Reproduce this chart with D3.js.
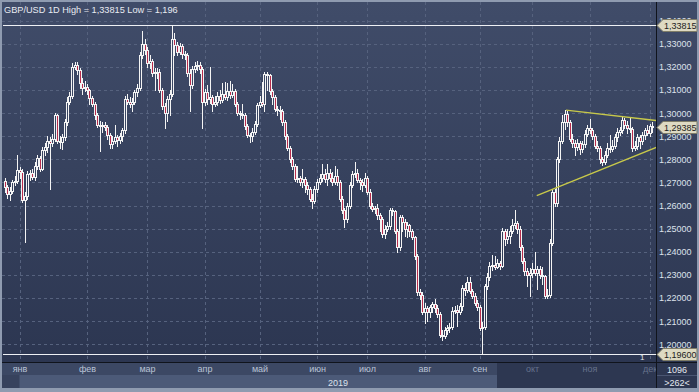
<!DOCTYPE html>
<html>
<head>
<meta charset="utf-8">
<script src="https://cdn.jsdelivr.net/npm/d3@7"></script>
<style>
    body { margin: 0; background: #8f9bb0; }
    svg { display: block; font-family: 'Liberation Sans', Arial, sans-serif; }
</style>
</head>
<body>
<div id="chart"></div>
<script>
// GBP/USD daily candles, late Dec 2018 .. early Dec 2019
const opens = [
    1.2705,1.2680,1.2650,1.2665,1.2700,1.2705,1.2752,1.2745,1.2625,1.2640,
    1.2735,1.2740,1.2725,1.2770,1.2805,1.2760,1.2840,1.2855,1.2880,1.2870,
    1.2890,1.2990,1.2880,1.2875,1.2895,1.2960,1.3050,1.3075,1.3200,1.3210,
    1.3185,1.3130,1.3110,1.3115,1.3100,1.3065,1.3040,1.2990,1.2950,1.2945,
    1.2950,1.2940,1.2905,1.2865,1.2880,1.2895,1.2885,1.2900,1.2925,1.3060,
    1.3050,1.3040,1.3050,1.3090,1.3110,1.3250,1.3300,1.3275,1.3215,1.3225,
    1.3175,1.3180,1.3178,1.3100,1.3030,1.3000,1.3060,1.3085,1.3320,1.3295,
    1.3265,1.3290,1.3255,1.3250,1.3175,1.3120,1.3190,1.3205,1.3210,1.3190,
    1.3050,1.3090,1.3060,1.3070,1.3040,1.3050,1.3075,1.3055,1.3085,1.3070,
    1.3095,1.3080,1.3095,1.3040,1.3000,1.2995,1.2990,1.2945,1.2905,1.2900,
    1.2920,1.2955,1.3035,1.3050,1.3040,1.3170,1.3165,1.3095,1.3070,1.3020,
    1.3015,1.3010,1.2960,1.2900,1.2850,1.2800,1.2770,1.2715,1.2720,1.2700,
    1.2715,1.2690,1.2670,1.2630,1.2620,1.2670,1.2700,1.2720,1.2735,1.2715,
    1.2740,1.2720,1.2700,1.2730,1.2700,1.2630,1.2580,1.2540,1.2600,1.2690,
    1.2735,1.2740,1.2710,1.2700,1.2690,1.2720,1.2660,1.2600,1.2585,1.2590,
    1.2560,1.2540,1.2475,1.2500,1.2510,1.2580,1.2575,1.2490,1.2420,1.2550,
    1.2530,1.2500,1.2515,1.2490,1.2465,1.2380,1.2225,1.2215,1.2140,1.2155,
    1.2140,1.2160,1.2175,1.2155,1.2130,1.2040,1.2035,1.2060,1.2070,1.2075,
    1.2145,1.2150,1.2140,1.2165,1.2245,1.2235,1.2270,1.2230,1.2210,1.2180,
    1.2160,1.2070,1.2075,1.2250,1.2290,1.2340,1.2345,1.2335,1.2350,1.2340,
    1.2490,1.2455,1.2470,1.2490,1.2515,1.2525,1.2500,1.2420,1.2360,1.2315,
    1.2300,1.2310,1.2325,1.2310,1.2325,1.2300,1.2295,1.2210,1.2215,1.2440,
    1.2660,1.2610,1.2800,1.2880,1.2960,1.2995,1.2960,1.2890,1.2870,1.2855,
    1.2870,1.2845,1.2865,1.2910,1.2935,1.2925,1.2900,1.2860,1.2850,1.2800,
    1.2790,1.2820,1.2850,1.2845,1.2860,1.2895,1.2920,1.2925,1.2970,1.2950,
    1.2935,1.2930,1.2850,1.2860,1.2895,1.2880,1.2905,1.2925,1.2915,1.2945
];
const highs = [
    1.2720,1.2690,1.2680,1.2712,1.2730,1.2820,1.2765,1.2760,1.2660,1.2750,
    1.2755,1.2760,1.2790,1.2820,1.2815,1.2855,1.2870,1.2900,1.2895,1.2910,
    1.3000,1.2998,1.2900,1.2910,1.2975,1.3070,1.3090,1.3215,1.3222,1.3220,
    1.3195,1.3150,1.3140,1.3125,1.3105,1.3075,1.3050,1.3000,1.2965,1.2960,
    1.2960,1.2950,1.2915,1.2900,1.2950,1.2905,1.2915,1.2935,1.3075,1.3085,
    1.3070,1.3065,1.3100,1.3125,1.3265,1.3357,1.3320,1.3285,1.3250,1.3235,
    1.3195,1.3195,1.3190,1.3110,1.3045,1.3075,1.3100,1.33815,1.3345,1.3310,
    1.3305,1.3300,1.3270,1.3260,1.3190,1.3205,1.3220,1.3225,1.3222,1.3200,
    1.3105,1.3120,1.3200,1.3080,1.3075,1.3090,1.3100,1.3130,1.3135,1.3130,
    1.3140,1.3125,1.3105,1.3050,1.3010,1.3040,1.3000,1.2955,1.2915,1.2935,
    1.2965,1.3045,1.3075,1.3135,1.3180,1.3178,1.3170,1.3105,1.3080,1.3030,
    1.3030,1.3020,1.2970,1.2910,1.2860,1.2810,1.2780,1.2770,1.2730,1.2760,
    1.2725,1.2700,1.2680,1.2650,1.2685,1.2715,1.2735,1.2780,1.2760,1.2780,
    1.2760,1.2745,1.2770,1.2760,1.2710,1.2640,1.2590,1.2610,1.2700,1.2750,
    1.2787,1.2760,1.2720,1.2715,1.2740,1.2730,1.2670,1.2610,1.2600,1.2605,
    1.2570,1.2550,1.2515,1.2530,1.2590,1.2590,1.2580,1.2500,1.2560,1.2560,
    1.2540,1.2530,1.2520,1.2500,1.2470,1.2390,1.2240,1.2225,1.2180,1.2165,
    1.2170,1.2185,1.2195,1.2170,1.2140,1.2060,1.2075,1.2085,1.2090,1.2160,
    1.2165,1.2170,1.2180,1.2255,1.2265,1.2290,1.2290,1.2240,1.2220,1.2190,
    1.2170,1.2095,1.2260,1.2310,1.2355,1.2385,1.2380,1.2370,1.2360,1.2505,
    1.2500,1.2500,1.2510,1.2540,1.2583,1.2535,1.2510,1.2430,1.2375,1.2330,
    1.2330,1.2350,1.2400,1.2340,1.2340,1.2335,1.2300,1.2240,1.2455,1.2670,
    1.2670,1.2810,1.2895,1.2990,1.3013,1.3010,1.2970,1.2910,1.2885,1.2890,
    1.2880,1.2880,1.2925,1.2950,1.2975,1.2935,1.2910,1.2880,1.2860,1.2810,
    1.2835,1.2870,1.2905,1.2885,1.2910,1.2935,1.2940,1.2987,1.2980,1.2965,
    1.2980,1.2940,1.2880,1.2910,1.2905,1.2920,1.2935,1.2950,1.2955,1.2960
];
const lows = [
    1.2660,1.2635,1.2625,1.2655,1.2690,1.2698,1.2720,1.2615,1.2443,1.2630,
    1.2710,1.2715,1.2710,1.2760,1.2750,1.2755,1.2820,1.2830,1.2670,1.2860,
    1.2880,1.2870,1.2850,1.2845,1.2885,1.2950,1.3040,1.3065,1.3190,1.3170,
    1.3110,1.3085,1.3095,1.3085,1.3040,1.3030,1.2975,1.2940,1.2835,1.2920,
    1.2925,1.2890,1.2848,1.2850,1.2870,1.2860,1.2870,1.2880,1.2915,1.3040,
    1.3025,1.3010,1.3040,1.3075,1.3100,1.3240,1.3255,1.3200,1.3195,1.3160,
    1.3100,1.3150,1.3090,1.3020,1.2935,1.2965,1.2990,1.3075,1.3250,1.3250,
    1.3255,1.3240,1.3235,1.3160,1.3009,1.3110,1.3180,1.3185,1.3175,1.2935,
    1.3035,1.3040,1.3045,1.3010,1.3030,1.3035,1.3045,1.3050,1.3060,1.3055,
    1.3065,1.3070,1.3030,1.2990,1.2975,1.2980,1.2930,1.2895,1.2874,1.2880,
    1.2910,1.2945,1.3025,1.3030,1.3010,1.3100,1.3085,1.3040,1.3010,1.2990,
    1.2975,1.2950,1.2890,1.2840,1.2790,1.2760,1.2705,1.2700,1.2690,1.2680,
    1.2660,1.2650,1.2620,1.2591,1.2610,1.2660,1.2695,1.2705,1.2700,1.2690,
    1.2705,1.2690,1.2695,1.2690,1.2620,1.2570,1.2509,1.2530,1.2590,1.2680,
    1.2725,1.2700,1.2670,1.2665,1.2680,1.2650,1.2590,1.2575,1.2570,1.2540,
    1.2490,1.2465,1.2460,1.2490,1.2500,1.2560,1.2480,1.2400,1.2410,1.2490,
    1.2470,1.2465,1.2470,1.2455,1.2370,1.2215,1.2195,1.2130,1.2091,1.2100,
    1.2120,1.2140,1.2140,1.2120,1.2030,1.2017,1.2025,1.2045,1.2055,1.2065,
    1.2135,1.2080,1.2130,1.2150,1.2215,1.2225,1.2220,1.2200,1.2170,1.2150,
    1.2060,1.1960,1.2065,1.2240,1.2280,1.2320,1.2325,1.2330,1.2325,1.2335,
    1.2430,1.2440,1.2440,1.2480,1.2505,1.2480,1.2410,1.2350,1.2300,1.2250,
    1.2210,1.2290,1.2300,1.2240,1.2285,1.2260,1.2200,1.2200,1.2205,1.2430,
    1.2600,1.2600,1.2790,1.2870,1.2930,1.2945,1.2880,1.2855,1.2817,1.2840,
    1.2825,1.2830,1.2855,1.2900,1.2915,1.2890,1.2850,1.2835,1.2785,1.2774,
    1.2780,1.2810,1.2830,1.2835,1.2850,1.2880,1.2905,1.2915,1.2935,1.2915,
    1.2920,1.2835,1.2840,1.2845,1.2850,1.2865,1.2890,1.2905,1.2900,1.2920
];
const closes = [
    1.2680,1.2650,1.2665,1.2700,1.2705,1.2752,1.2745,1.2625,1.2640,1.2735,
    1.2740,1.2725,1.2770,1.2805,1.2760,1.2840,1.2855,1.2880,1.2870,1.2890,
    1.2990,1.2880,1.2875,1.2895,1.2960,1.3050,1.3075,1.3200,1.3210,1.3185,
    1.3130,1.3110,1.3115,1.3100,1.3065,1.3040,1.2990,1.2950,1.2945,1.2950,
    1.2940,1.2905,1.2865,1.2880,1.2895,1.2885,1.2900,1.2925,1.3060,1.3050,
    1.3040,1.3050,1.3090,1.3110,1.3250,1.3300,1.3275,1.3215,1.3225,1.3175,
    1.3180,1.3178,1.3100,1.3030,1.3000,1.3060,1.3085,1.3320,1.3295,1.3265,
    1.3290,1.3255,1.3250,1.3175,1.3120,1.3190,1.3205,1.3210,1.3190,1.3050,
    1.3090,1.3060,1.3070,1.3040,1.3050,1.3075,1.3055,1.3085,1.3070,1.3095,
    1.3080,1.3095,1.3040,1.3000,1.2995,1.2990,1.2945,1.2905,1.2900,1.2920,
    1.2955,1.3035,1.3050,1.3040,1.3170,1.3165,1.3095,1.3070,1.3020,1.3015,
    1.3010,1.2960,1.2900,1.2850,1.2800,1.2770,1.2715,1.2720,1.2700,1.2715,
    1.2690,1.2670,1.2630,1.2620,1.2670,1.2700,1.2720,1.2735,1.2715,1.2740,
    1.2720,1.2700,1.2730,1.2700,1.2630,1.2580,1.2540,1.2600,1.2690,1.2735,
    1.2740,1.2710,1.2700,1.2690,1.2720,1.2660,1.2600,1.2585,1.2590,1.2560,
    1.2540,1.2475,1.2500,1.2510,1.2580,1.2575,1.2490,1.2420,1.2550,1.2530,
    1.2500,1.2515,1.2490,1.2465,1.2380,1.2225,1.2215,1.2140,1.2155,1.2140,
    1.2160,1.2175,1.2155,1.2130,1.2040,1.2035,1.2060,1.2070,1.2075,1.2145,
    1.2150,1.2140,1.2165,1.2245,1.2235,1.2270,1.2230,1.2210,1.2180,1.2160,
    1.2070,1.2075,1.2250,1.2290,1.2340,1.2345,1.2335,1.2350,1.2340,1.2490,
    1.2455,1.2470,1.2490,1.2515,1.2525,1.2500,1.2420,1.2360,1.2315,1.2300,
    1.2310,1.2325,1.2310,1.2325,1.2300,1.2295,1.2210,1.2215,1.2440,1.2660,
    1.2610,1.2800,1.2880,1.2960,1.2995,1.2960,1.2890,1.2870,1.2855,1.2870,
    1.2845,1.2865,1.2910,1.2935,1.2925,1.2900,1.2860,1.2850,1.2800,1.2790,
    1.2820,1.2850,1.2845,1.2860,1.2895,1.2920,1.2925,1.2970,1.2950,1.2935,
    1.2930,1.2850,1.2860,1.2895,1.2880,1.2905,1.2925,1.2915,1.2945,1.29385
];

// first bar of each month (bar index) and its label
const monthStarts = [6, 33, 57, 80, 102, 125, 145, 168, 190, 211, 234, 258];
const monthLabels = ['янв', 'фев', 'мар', 'апр', 'май', 'июн', 'июл', 'авг', 'сен', 'окт', 'ноя', 'дек'];
const futureFrom = 211; // months from here on are dimmed on the time bar
const yearLabel = '2019';

const yTicks = [1.20, 1.21, 1.22, 1.23, 1.24, 1.25, 1.26, 1.27, 1.28, 1.29, 1.30, 1.31, 1.32, 1.33, 1.34];
const periodHigh = 1.33815;
const periodLow = 1.196;
const lastPrice = 1.29385;

// triangle drawn on the chart: [bar index, price]
const trendUpper = [[224.6, 1.3013], [261.4, 1.2967]];
const trendLower = [[212.9, 1.2643], [261.4, 1.2855]];

const W = 699, H = 392;
const plot = { left: 2, right: 656, top: 2, bottom: 362 };
const fmt = (v) => v.toFixed(5).replace('.', ',');

const x = d3.scaleLinear().domain([0, closes.length - 1]).range([4.5, 652]);
const y = d3.scaleLinear().domain([periodLow, periodHigh]).range([353.5, 25]);

const svg = d3.select('#chart').append('svg').attr('width', W).attr('height', H);
const defs = svg.append('defs');

const grad = defs.append('linearGradient').attr('id', 'bg')
    .attr('gradientUnits', 'userSpaceOnUse')
    .attr('x1', 0).attr('y1', plot.top).attr('x2', 0).attr('y2', plot.bottom);
grad.append('stop').attr('offset', 0).attr('stop-color', '#404c69');
grad.append('stop').attr('offset', 1).attr('stop-color', '#2c3651');

defs.append('clipPath').attr('id', 'plotClip').append('rect')
    .attr('x', plot.left).attr('y', plot.top)
    .attr('width', plot.right - plot.left).attr('height', plot.bottom - plot.top);
defs.append('clipPath').attr('id', 'timeClip').append('rect')
    .attr('x', plot.left).attr('y', plot.bottom).attr('width', plot.right - plot.left).attr('height', 30);

// frame + panels
svg.append('rect').attr('width', W).attr('height', H).attr('fill', '#8f9bb0');
svg.append('rect').attr('x', plot.left).attr('y', plot.top)
    .attr('width', W - 2 - plot.left).attr('height', plot.bottom - plot.top).attr('fill', 'url(#bg)');

// time bar
const scrollEnd = x(futureFrom) - 35;
svg.append('rect').attr('x', plot.left).attr('y', 363).attr('width', plot.right - plot.left).attr('height', 12).attr('fill', '#3c4864');
svg.append('rect').attr('x', plot.left).attr('y', 375).attr('width', plot.right - plot.left).attr('height', 13).attr('fill', '#37425d');
svg.append('rect').attr('x', x(monthStarts[0])).attr('y', 375)
    .attr('width', scrollEnd - x(monthStarts[0])).attr('height', 13).attr('fill', '#4c5a78');
svg.append('rect').attr('x', scrollEnd).attr('y', 363)
    .attr('width', plot.right - scrollEnd).attr('height', 25).attr('fill', '#2d3751');
svg.append('rect').attr('x', plot.right + 1).attr('y', 363).attr('width', W - 3 - plot.right).attr('height', 25).attr('fill', '#2d3751');
svg.append('line').attr('x1', plot.right + 1).attr('x2', W - 2).attr('y1', 375.5).attr('y2', 375.5).attr('stroke', '#4a5672');

// grid
const grid = svg.append('g').attr('clip-path', 'url(#plotClip)')
    .attr('stroke', '#56627e').attr('stroke-dasharray', '3,3');
grid.selectAll('line.h').data(yTicks).join('line').attr('class', 'h')
    .attr('x1', plot.left).attr('x2', plot.right)
    .attr('y1', (d) => Math.round(y(d)) + 0.5).attr('y2', (d) => Math.round(y(d)) + 0.5);
grid.selectAll('line.v').data(monthStarts).join('line').attr('class', 'v')
    .attr('x1', (d) => Math.round(x(d)) + 0.5).attr('x2', (d) => Math.round(x(d)) + 0.5)
    .attr('y1', plot.top).attr('y2', plot.bottom);

// high / low of the period
svg.append('g').selectAll('line').data([periodHigh, periodLow]).join('line')
    .attr('x1', plot.left + 1).attr('x2', plot.right)
    .attr('y1', (d) => Math.round(y(d)) + 0.5).attr('y2', (d) => Math.round(y(d)) + 0.5)
    .attr('stroke', '#eef0f4');

// candles
const px = (i) => Math.round(x(i));
const candles = svg.append('g').attr('clip-path', 'url(#plotClip)')
    .selectAll('g').data(d3.range(closes.length)).join('g');

candles.append('line')
    .attr('x1', (i) => px(i) + 0.5).attr('x2', (i) => px(i) + 0.5)
    .attr('y1', (i) => Math.round(y(highs[i]))).attr('y2', (i) => Math.round(y(lows[i])) + 1)
    .attr('stroke', '#f4f4f4');

candles.append('rect')
    .attr('x', (i) => px(i) - 0.5)
    .attr('y', (i) => Math.round(y(Math.max(opens[i], closes[i]))) + 0.5)
    .attr('width', 2)
    .attr('height', (i) => Math.max(Math.round(y(Math.min(opens[i], closes[i]))) - Math.round(y(Math.max(opens[i], closes[i]))), 1))
    .attr('fill', (i) => closes[i] < opens[i] ? '#b82c4c' : 'url(#bg)')
    .attr('stroke', '#f4f4f4');

// triangle
const trendLine = d3.line().x((d) => x(d[0])).y((d) => y(d[1]));
svg.append('g').attr('clip-path', 'url(#plotClip)')
    .selectAll('path').data([trendUpper, trendLower]).join('path')
    .attr('d', trendLine)
    .attr('fill', 'none').attr('stroke', '#c8c94a').attr('stroke-width', 1.4);

// separators
svg.append('line').attr('x1', plot.right + 0.5).attr('x2', plot.right + 0.5).attr('y1', plot.top).attr('y2', 388).attr('stroke', '#10141c');
svg.append('line').attr('x1', plot.left).attr('x2', W - 2).attr('y1', plot.bottom + 0.5).attr('y2', plot.bottom + 0.5).attr('stroke', '#10141c');

// price axis
const yAxis = svg.append('g').attr('transform', `translate(${plot.right},0)`)
    .call(d3.axisRight(y).tickValues(yTicks).tickFormat(fmt).tickSize(0).tickPadding(3));
yAxis.select('.domain').remove();
yAxis.selectAll('text').attr('fill', '#dde2ec').attr('font-size', 9).attr('font-family', null);

// time axis
const xAxis = svg.append('g').attr('clip-path', 'url(#timeClip)')
    .append('g').attr('transform', `translate(0,${plot.bottom + 1})`)
    .call(d3.axisBottom(x).tickValues(monthStarts).tickFormat((d, i) => monthLabels[i]).tickSize(0).tickPadding(3));
xAxis.select('.domain').remove();
xAxis.selectAll('text').attr('font-size', 9).attr('font-family', null)
    .attr('fill', (d) => d >= futureFrom ? '#66728c' : '#b9c3d6');

svg.append('text').attr('x', 348).attr('y', 386).attr('text-anchor', 'end')
    .attr('font-size', 9).attr('fill', '#dde2ec').text(yearLabel);
svg.append('text').attr('x', 677).attr('y', 373).attr('text-anchor', 'middle')
    .attr('font-size', 9).attr('fill', '#e6e9f0').text('1096');
svg.append('text').attr('x', 677).attr('y', 386).attr('text-anchor', 'middle')
    .attr('font-size', 9).attr('fill', '#e6e9f0').text('>262<');

// price tags
const tags = svg.append('g').selectAll('g').data([periodHigh, lastPrice, periodLow]).join('g')
    .attr('transform', (d) => `translate(${plot.right + 1},${Math.round(y(d)) + 0.5})`);
tags.append('path')
    .attr('d', 'M0,0L6,-6H40V6H6Z')
    .attr('fill', '#dedac3').attr('stroke', '#7f7d68');
tags.append('text').attr('x', 7).attr('y', 3.3)
    .attr('font-size', 9).attr('fill', '#1c1c1c').text(fmt);

// title and marker
svg.append('text').attr('x', 4).attr('y', 12.5)
    .attr('font-size', 9.2).attr('fill', '#e8ebf2')
    .text(`GBP/USD 1D High = ${fmt(periodHigh)} Low = ${String(periodLow).replace('.', ',')}`);
svg.append('text').attr('x', 640).attr('y', 360)
    .attr('font-size', 8).attr('fill', '#e0e3ea').text('1');
</script>
</body>
</html>
